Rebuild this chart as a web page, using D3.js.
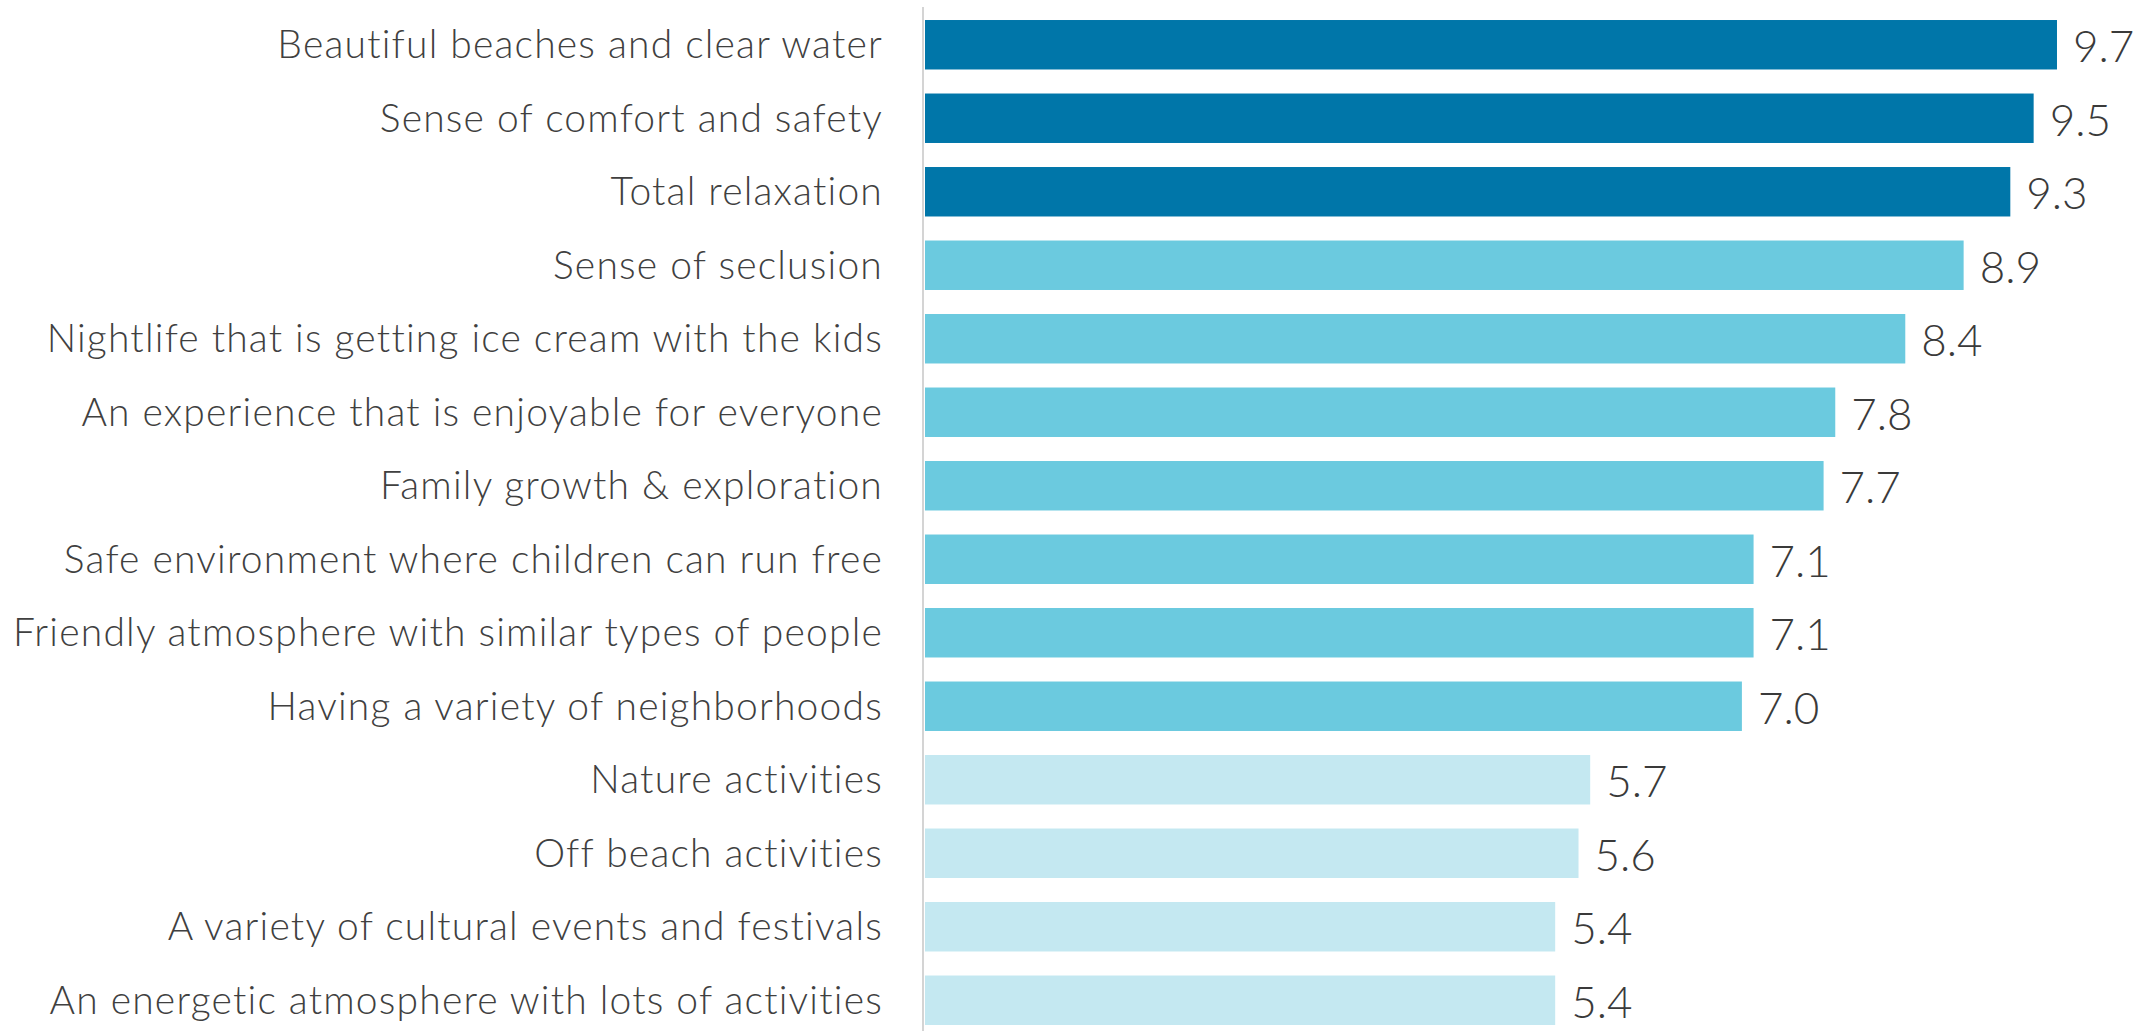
<!DOCTYPE html>
<html>
<head>
<meta charset="utf-8">
<script src="https://cdn.jsdelivr.net/npm/d3@7"></script>
<style>
  html, body { margin: 0; padding: 0; background: #ffffff; }
  svg { display: block; }
</style>
</head>
<body>
<svg id="chart" width="2154" height="1031"></svg>
<script>
// Attributes and their scores
const categories = [
  "Beautiful beaches and clear water",
  "Sense of comfort and safety",
  "Total relaxation",
  "Sense of seclusion",
  "Nightlife that is getting ice cream with the kids",
  "An experience that is enjoyable for everyone",
  "Family growth & exploration",
  "Safe environment where children can run free",
  "Friendly atmosphere with similar types of people",
  "Having a variety of neighborhoods",
  "Nature activities",
  "Off beach activities",
  "A variety of cultural events and festivals",
  "An energetic atmosphere with lots of activities"
];
const values = [9.7, 9.5, 9.3, 8.9, 8.4, 7.8, 7.7, 7.1, 7.1, 7.0, 5.7, 5.6, 5.4, 5.4];
const valueLabels = ["9.7", "9.5", "9.3", "8.9", "8.4", "7.8", "7.7", "7.1", "7.1", "7.0", "5.7", "5.6", "5.4", "5.4"];
// Tier of each attribute: 0 = top, 1 = middle, 2 = lower
const tiers = [0, 0, 0, 1, 1, 1, 1, 1, 1, 1, 2, 2, 2, 2];
const tierColors = ["#0076a9", "#6bcadf", "#c4e8f1"];

const svg = d3.select("#chart");
const x0 = 925;

const x = d3.scaleLinear().domain([0, 10]).range([x0, x0 + 1167]);
const y = d3.scaleBand()
  .domain(categories)
  .range([8, 8 + 14 * 73.5])
  .paddingInner(0.327)
  .paddingOuter(0.1635);

// Bars
svg.append("g")
  .selectAll("rect")
  .data(categories)
  .join("rect")
  .attr("x", x(0))
  .attr("y", d => y(d))
  .attr("width", (d, i) => x(values[i]) - x(0))
  .attr("height", y.bandwidth())
  .attr("fill", (d, i) => tierColors[tiers[i]]);

// Category axis (line + labels, no ticks)
const axis = d3.axisLeft(y).tickSize(0).tickPadding(40);
const gAxis = svg.append("g")
  .attr("transform", `translate(${x0 - 2},0)`)
  .call(axis);
gAxis.select(".domain")
  .attr("d", `M0,7V1031`)
  .attr("stroke", "#d4d4d4")
  .attr("stroke-width", 2);
gAxis.selectAll(".tick text")
  .attr("fill", "#404040")
  .style("font-family", "Lato, 'Noto Sans', sans-serif")
  .style("font-weight", 300)
  .style("font-size", "39px")
  .style("letter-spacing", "1.2px")
  .attr("dy", "0.35em");

// Value labels
svg.append("g")
  .selectAll("text")
  .data(categories)
  .join("text")
  .attr("x", (d, i) => x(values[i]) + 16)
  .attr("y", d => y(d) + y.bandwidth() / 2 + 2)
  .attr("dy", "0.35em")
  .attr("fill", "#3a3a3a")
  .style("font-family", "Lato, 'Noto Sans', sans-serif")
  .style("font-weight", 300)
  .style("font-size", "44px")
  .text((d, i) => valueLabels[i]);
</script>
</body>
</html>
